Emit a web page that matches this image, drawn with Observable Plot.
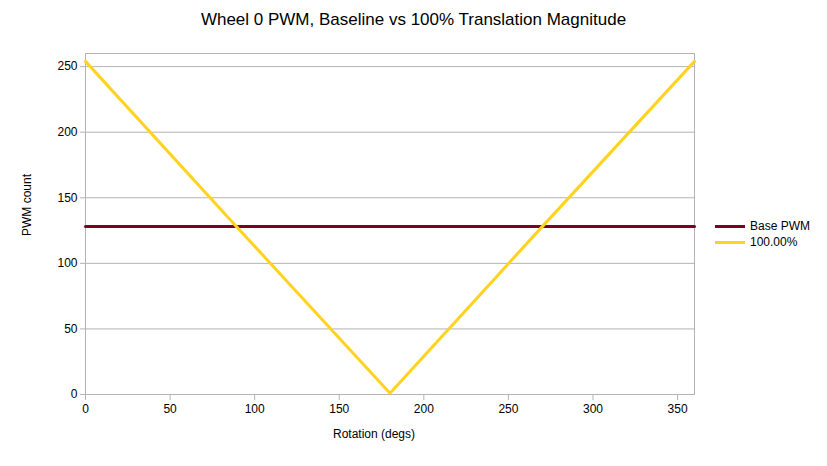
<!DOCTYPE html>
<html>
<head>
<meta charset="utf-8">
<script src="https://cdn.jsdelivr.net/npm/d3@7"></script>
<script src="https://cdn.jsdelivr.net/npm/@observablehq/plot@0.6"></script>
<style>
  body { margin: 0; background: #fff; font-family: "Liberation Sans", Arial, sans-serif; }
  #wrap { position: relative; width: 827px; height: 466px; }
  #title { height: 45px; line-height: 60px; text-align: center; font-size: 17px; color: #000; padding-left: 0; box-sizing: border-box; }
  #title span { position: relative; top: -10px; }
  .legend { position: absolute; left: 715px; font-size: 12px; color: #000; }
  .legend div { height: 16px; display: flex; align-items: center; }
  .sw { width: 30px; height: 3px; margin-right: 5px; display: inline-block; }
</style>
</head>
<body>
<div id="wrap">
  <div id="title"><span>Wheel 0 PWM, Baseline vs 100% Translation Magnitude</span></div>
  <div id="chart"></div>
  <div class="legend" id="legend" style="top:218px"></div>
</div>
<script>
const rotation = [0, 90, 180, 270, 360];
const basePWM = [128, 128, 128, 128, 128];
const trans100 = [254, 127, 1, 128, 254];
const seriesNames = ["Base PWM", "100.00%"];
const seriesColors = ["#7e0021", "#ffd320"];
const xTicks = [0, 50, 100, 150, 200, 250, 300, 350];
const yTicks = [0, 50, 100, 150, 200, 250];

const data = [];
rotation.forEach((r, i) => {
  data.push({x: r, y: basePWM[i], s: seriesNames[0]});
  data.push({x: r, y: trans100[i], s: seriesNames[1]});
});

const plot = Plot.plot({
  width: 827,
  height: 421,
  marginLeft: 85,
  marginRight: 133,
  marginTop: 8,
  marginBottom: 72,
  style: {fontFamily: "Liberation Sans, Arial, sans-serif", fontSize: "12px", color: "#000", background: "#fff"},
  x: {domain: [0, 360], ticks: xTicks},
  y: {domain: [0, 260], ticks: yTicks},
  color: {domain: seriesNames, range: seriesColors},
  marks: [
    Plot.gridY(yTicks, {stroke: "#b3b3b3", strokeOpacity: 1, strokeWidth: 1}),
    Plot.frame({stroke: "#b3b3b3", strokeWidth: 1}),
    Plot.axisX({ticks: xTicks, tickSize: 6, tickPadding: 4, stroke: "#b3b3b3", label: null, fontSize: 12}),
    Plot.axisY({ticks: yTicks, tickSize: 5, tickPadding: 3, stroke: "#b3b3b3", label: null, fontSize: 12}),
    Plot.line(data, {x: "x", y: "y", z: "s", stroke: "s", strokeWidth: 3}),
    Plot.text(["Rotation (degs)"], {frameAnchor: "bottom", dy: 43, dx: -16, fontSize: 12}),
    Plot.text(["PWM count"], {frameAnchor: "left", dx: -58, dy: 12, rotate: -90, fontSize: 12})
  ]
});
document.getElementById("chart").appendChild(plot);

const leg = document.getElementById("legend");
seriesNames.forEach((n, i) => {
  const d = document.createElement("div");
  d.innerHTML = `<span class="sw" style="background:${seriesColors[i]}"></span>${n}`;
  leg.appendChild(d);
});
</script>
</body>
</html>
